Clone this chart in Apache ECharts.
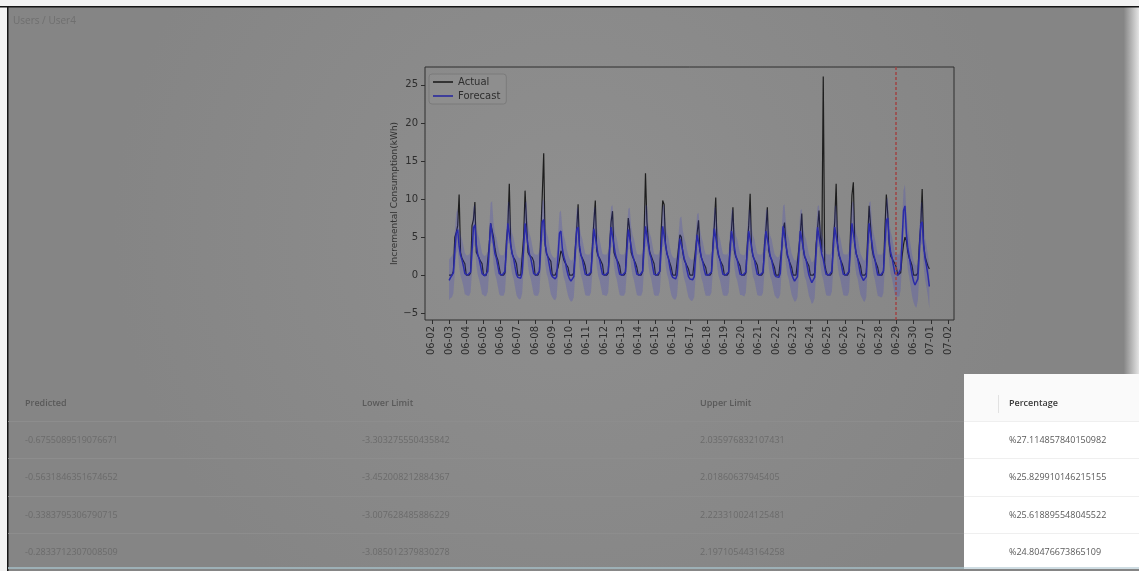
<!DOCTYPE html>
<html><head><meta charset="utf-8">
<script src="https://cdn.jsdelivr.net/npm/echarts@6/dist/echarts.min.js"></script>
<style>html,body{margin:0;padding:0;background:#fff;overflow:hidden}#c{width:1139px;height:571px}</style>
</head><body><div id="c"></div><script>
// ---- chart data (2-hour samples, 12 per day, 06-03 .. 06-30) ----
const tickLabels = ['06-02','06-03','06-04','06-05','06-06','06-07','06-08','06-09','06-10','06-11','06-12','06-13','06-14','06-15','06-16','06-17','06-18','06-19','06-20','06-21','06-22','06-23','06-24','06-25','06-26','06-27','06-28','06-29','06-30','07-01','07-02'];
const yTickValues = [-5, 0, 5, 10, 15, 20, 25];
const firstDay = 1;          // 06-03, in days after 06-02
const samplesPerDay = 12;
const forecastStartDay = 26.96;

const actual = [
 0,0,0,0.5,5.0,5.6,6.5,10.6,3.0,2.2,2.0,1.5,
 0,0,0,0.3,6.5,7.3,9.6,3.0,2.6,2.2,1.8,1.5,
 0,0,0,0.2,4.0,6.8,7.0,5.0,3.5,2.5,2.0,1.0,
 0,0,0,0.3,4.5,6.5,12.0,4.0,2.8,2.3,2.0,1.5,
 0,0,0,0.2,5.0,11.1,7.0,3.0,2.6,2.5,2.3,1.8,
 0,0,0,0.5,5.5,10.5,16.0,4.0,2.8,2.4,2.2,1.8,
 0,0,0,0,1.0,2.0,3.2,2.8,2.0,1.6,1.4,1.0,
 0,0,0,0.3,3.5,6.0,9.3,3.5,2.6,2.2,1.8,1.2,
 0,0,0,0.3,4.0,7.0,9.8,3.2,2.5,2.2,1.8,1.4,
 0,0,0,0.3,4.0,7.0,8.4,3.0,2.4,2.0,1.7,1.2,
 0,0,0,0.3,4.5,7.5,6.0,3.0,2.4,2.0,1.6,1.0,
 0,0,0,0.5,5.0,13.4,7.0,4.5,3.0,2.5,2.0,1.5,
 0,0,0,0.5,6.0,9.8,9.3,4.0,2.8,2.2,1.6,1.0,
 0,0,0,0.2,3.5,5.3,5.0,3.0,2.0,1.6,1.2,0.8,
 0,0,0,0.2,3.5,5.5,7.2,3.2,2.3,1.8,1.4,1.0,
 0,0,0,0.3,4.0,6.5,10.2,3.5,2.5,2.0,1.6,1.2,
 0,0,0,0.3,4.0,6.0,8.9,3.2,2.4,2.0,1.6,1.2,
 0,0,0,0.3,4.0,6.5,10.7,3.5,2.5,2.0,1.7,1.3,
 0,0,0,0.3,4.0,6.0,8.9,3.2,2.4,2.0,1.5,1.0,
 0,0,0,0.2,3.5,6.0,6.9,4.0,2.5,2.0,1.5,1.0,
 0,0,0,0.2,3.5,5.5,8.1,3.5,2.4,2.0,1.6,1.2,
 0,0,0,0.3,4.0,6.0,8.5,5.0,3.0,26.1,1.5,0.5,
 0,0,0,0.3,4.5,7.0,12.0,4.0,2.6,2.0,1.6,1.0,
 0,0,0,0.4,5.5,10.5,12.2,4.0,2.8,2.2,1.7,1.2,
 0,0,0,0.3,5.0,9.1,6.5,3.5,2.5,2.0,1.5,1.0,
 0,0,0,0.5,6.0,10.6,8.0,4.0,2.5,2.2,1.8,1.5,
 1.0,0,0,0.3,2.5,4.0,5.0,4.5,3.0,2.2,1.8,1.2,
 0,0,0,0.3,4.0,6.5,11.3,4.0,2.5,1.8,1.2,0.8
];
const forecast = [
 -0.68,-0.34,-0.2,0.3,3.0,5.5,6.0,3.8,2.6,2.0,1.2,0.2,
 0,0,0,0.4,3.2,6.2,6.6,4.0,2.7,2.1,1.2,0.2,
 0,-0.1,0,0.5,3.5,6.8,7.0,4.2,2.8,2.2,1.2,0.2,
 0,0,0,0.5,3.6,6.8,7.0,4.0,2.8,2.2,1.1,0.1,
 -0.3,-0.5,-0.4,0.3,3.5,6.8,7.0,4.0,2.8,2.2,1.2,0.2,
 0,0,0,0.5,3.8,7.0,7.3,4.2,2.9,2.3,1.2,0.2,
 -0.2,-0.4,-0.5,-0.2,2.5,5.5,5.8,3.5,2.4,1.8,0.8,0.0,
 -0.5,-0.8,-0.7,-0.2,2.8,6.0,6.3,3.8,2.6,2.0,1.0,0.1,
 0,0,0,0.4,3.2,6.1,6.3,3.8,2.6,2.0,1.0,0.1,
 0,0,0,0.4,3.3,6.3,6.5,3.9,2.7,2.1,1.0,0.1,
 0,0,0,0.4,3.2,6.0,6.2,3.8,2.6,2.0,1.0,0.1,
 0,0,0,0.5,3.6,6.4,6.5,4.0,2.8,2.2,1.1,0.1,
 0,0,0,0.5,3.6,6.4,6.5,4.0,2.8,2.2,1.0,0.1,
 -0.3,-0.5,-0.5,0,2.5,4.8,5.0,3.2,2.2,1.6,0.6,-0.2,
 -0.5,-0.7,-0.6,-0.2,2.6,5.3,5.5,3.4,2.3,1.7,0.7,0,
 0,0,0,0.4,3.3,6.1,6.3,3.8,2.6,2.0,1.0,0.1,
 0,0,0,0.4,3.2,5.8,6.0,3.7,2.5,2.0,1.0,0.1,
 0,0,0,0.4,3.2,5.8,6.0,3.7,2.5,2.0,1.0,0.1,
 0,0,0,0.4,3.2,5.8,6.0,3.7,2.5,2.0,1.0,0.1,
 -0.2,-0.4,-0.3,0.2,3.3,6.4,6.6,4.0,2.7,2.1,1.0,0.1,
 -0.4,-0.8,-0.7,-0.2,2.8,5.8,6.0,3.7,2.5,2.0,1.0,0.0,
 -0.5,-1.0,-0.9,-0.3,3.0,6.3,6.5,4.0,2.7,2.1,1.0,0.1,
 0,0,0,0.5,3.5,6.3,6.5,4.0,2.7,2.1,1.0,0.1,
 0,0,0,0.5,3.8,6.8,7.0,4.2,2.8,2.2,1.1,0.1,
 -0.3,-0.7,-0.8,-0.2,3.5,6.8,7.0,4.2,2.8,2.1,1.0,0.0,
 0,0,0,0.5,4.0,7.2,7.5,4.5,3.0,2.3,1.2,0.2,
 0,0,0,0.8,4.5,8.5,9.1,5.5,3.5,2.5,1.2,0.0,
 -0.8,-1.3,-1.5,-0.5,3.0,6.7,7.0,4.0,2.2,1.2,0,-1.5
];
const lower = [
 -3.3,-3.0,-2.9,-2.4,0.3,2.8,3.3,1.1,-0.1,-0.7,-1.5,-2.5,
 -2.6,-2.7,-2.7,-2.3,0.5,3.5,3.9,1.3,0.0,-0.6,-1.5,-2.5,
 -2.6,-2.8,-2.7,-2.2,0.8,4.1,4.3,1.5,0.1,-0.5,-1.5,-2.5,
 -2.7,-2.7,-2.7,-2.2,0.9,4.1,4.3,1.3,0.1,-0.5,-1.6,-2.6,
 -3.0,-3.2,-3.1,-2.4,0.8,4.1,4.3,1.3,0.1,-0.5,-1.5,-2.5,
 -2.7,-2.7,-2.7,-2.2,1.1,4.3,4.6,1.5,0.2,-0.4,-1.5,-2.5,
 -2.9,-3.2,-3.3,-2.9,-0.2,2.8,3.1,0.8,-0.3,-0.9,-1.9,-2.7,
 -3.2,-3.5,-3.4,-2.9,0.1,3.3,3.6,1.1,-0.1,-0.7,-1.7,-2.6,
 -2.7,-2.7,-2.7,-2.3,0.5,3.4,3.6,1.1,-0.1,-0.7,-1.7,-2.6,
 -2.6,-2.7,-2.7,-2.3,0.6,3.6,3.8,1.2,0.0,-0.6,-1.7,-2.6,
 -2.7,-2.7,-2.7,-2.3,0.5,3.3,3.5,1.1,-0.1,-0.7,-1.7,-2.6,
 -2.7,-2.7,-2.7,-2.2,0.9,3.7,3.8,1.3,0.1,-0.5,-1.6,-2.6,
 -2.7,-2.7,-2.7,-2.2,0.9,3.7,3.8,1.3,0.1,-0.5,-1.7,-2.6,
 -3.0,-3.2,-3.2,-2.7,-0.2,2.1,2.3,0.5,-0.5,-1.1,-2.1,-2.9,
 -3.2,-3.4,-3.3,-2.9,-0.1,2.6,2.8,0.7,-0.4,-1.0,-2.0,-2.7,
 -2.7,-2.7,-2.7,-2.3,0.6,3.4,3.6,1.1,-0.1,-0.7,-1.7,-2.6,
 -2.7,-2.7,-2.7,-2.3,0.5,3.1,3.3,1.0,-0.2,-0.7,-1.7,-2.6,
 -2.6,-2.7,-2.8,-2.3,0.5,3.1,3.3,1.0,-0.2,-0.7,-1.7,-2.6,
 -2.7,-2.7,-2.7,-2.3,0.5,3.1,3.3,1.0,-0.2,-0.7,-1.7,-2.6,
 -2.9,-3.1,-3.0,-2.5,0.6,3.7,3.9,1.3,0.0,-0.6,-1.7,-2.6,
 -3.1,-3.5,-3.4,-2.9,0.1,3.1,3.3,1.0,-0.2,-0.7,-1.7,-2.7,
 -3.2,-3.8,-3.6,-3.0,0.3,3.6,3.8,1.3,0.0,-0.6,-1.7,-2.6,
 -2.7,-2.7,-2.7,-2.2,0.8,3.6,3.8,1.3,0.0,-0.6,-1.7,-2.6,
 -2.7,-2.7,-2.7,-2.2,1.1,4.1,4.3,1.5,0.1,-0.5,-1.6,-2.6,
 -3.0,-3.4,-3.5,-2.9,0.8,4.1,4.3,1.5,0.1,-0.6,-1.7,-2.7,
 -2.8,-2.9,-2.9,-2.3,1.2,4.4,4.7,1.7,0.2,-0.5,-1.6,-2.6,
 -2.8,-2.8,-2.8,-2.0,1.7,5.7,6.3,2.7,0.7,-0.3,-1.6,-2.8,
 -3.6,-4.1,-4.3,-3.3,0.2,3.9,4.2,1.2,-0.6,-1.6,-2.8,-4.4
];
const upper = [
 2.04,2.3,2.5,3.0,5.7,8.2,8.7,6.5,5.3,4.7,3.9,2.9,
 2.6,2.6,2.7,3.1,5.9,8.9,9.3,6.7,5.4,4.8,3.9,2.9,
 2.6,2.5,2.7,3.2,6.2,9.5,9.7,6.9,5.5,4.9,3.9,2.9,
 2.6,2.6,2.6,3.2,6.3,9.5,9.7,6.7,5.5,4.9,3.8,2.8,
 2.4,2.2,2.3,3.0,6.2,9.5,9.7,6.7,5.5,4.9,3.9,2.9,
 2.7,2.7,2.7,3.2,6.5,9.7,10.0,6.9,5.6,5.0,3.9,2.9,
 2.5,2.3,2.2,2.5,5.2,8.2,8.5,6.2,5.1,4.5,3.5,2.7,
 2.2,1.9,2.0,2.5,5.5,8.7,9.0,6.5,5.3,4.7,3.7,2.8,
 2.7,2.7,2.7,3.1,5.9,8.8,9.0,6.5,5.3,4.7,3.7,2.8,
 2.7,2.7,2.7,3.1,6.0,9.0,9.2,6.6,5.4,4.8,3.7,2.8,
 2.7,2.7,2.7,3.1,5.9,8.7,8.9,6.5,5.3,4.7,3.7,2.8,
 2.7,2.7,2.7,3.2,6.3,9.1,9.2,6.7,5.5,4.9,3.8,2.8,
 2.7,2.7,2.7,3.2,6.3,9.1,9.2,6.7,5.5,4.9,3.7,2.8,
 2.4,2.2,2.2,2.7,5.2,7.5,7.7,5.9,4.9,4.3,3.3,2.5,
 2.2,2.0,2.1,2.5,5.3,8.0,8.2,6.1,5.0,4.4,3.4,2.7,
 2.7,2.7,2.7,3.1,6.0,8.8,9.0,6.5,5.3,4.7,3.7,2.8,
 2.7,2.7,2.7,3.1,5.9,8.5,8.7,6.4,5.2,4.7,3.7,2.8,
 2.7,2.6,2.6,3.1,5.9,8.5,8.7,6.4,5.2,4.7,3.7,2.8,
 2.7,2.7,2.7,3.1,5.9,8.5,8.7,6.4,5.2,4.7,3.7,2.8,
 2.5,2.3,2.4,2.9,6.0,9.1,9.3,6.7,5.4,4.8,3.7,2.8,
 2.3,1.9,2.0,2.5,5.5,8.5,8.7,6.4,5.2,4.7,3.7,2.7,
 2.2,1.7,1.8,2.4,5.7,9.0,9.2,6.7,5.4,4.8,3.7,2.8,
 2.7,2.7,2.7,3.2,6.2,9.0,9.2,6.7,5.4,4.8,3.7,2.8,
 2.7,2.7,2.7,3.2,6.5,9.5,9.7,6.9,5.5,4.9,3.8,2.8,
 2.4,2.0,1.9,2.5,6.2,9.5,9.7,6.9,5.5,4.8,3.7,2.7,
 2.7,2.7,2.7,3.2,6.7,9.9,10.2,7.2,5.7,5.0,3.9,2.9,
 2.7,2.7,2.7,3.5,7.2,11.2,11.9,8.2,6.2,5.2,3.9,2.7,
 1.9,1.4,1.2,2.2,5.7,9.4,9.7,6.7,4.9,3.9,2.7,1.2
];

// ---- table data ----
const breadcrumb = 'Users / User4';
const tableHeaders = ['Predicted', 'Lower Limit', 'Upper Limit', 'Percentage'];
const predictedCol = ['-0.6755089519076671', '-0.5631846351674652', '-0.3383795306790715', '-0.2833712307008509'];
const lowerCol = ['-3.303275550435842', '-3.452008212884367', '-3.007628485886229', '-3.085012379830278'];
const upperCol = ['2.035976832107431', '2.01860637945405', '2.223310024125481', '2.197105443164258'];
const percentageCol = ['%27.114857840150982', '%25.829910146215155', '%25.618895548045522', '%24.80476673865109'];

// ---- build ----
const xOf = i => firstDay + i / samplesPerDay;
const pts = arr => arr.map((v, i) => [xOf(i), v]);
const fmtMinus = v => (v < 0 ? '\u2212' + Math.abs(v) : String(v));

const colX = [25, 362, 700, 1009];
const headerY = 403;
const rowY = [440, 477.5, 515, 552];
const g = [];
g.push({type:'rect', z:-10, shape:{x:0,y:0,width:1139,height:571}, style:{fill:{type:'radial',x:0.5,y:0.4,r:0.8,colorStops:[{offset:0,color:'#8f8f8f'},{offset:1,color:'#858585'}]}}});
g.push({type:'rect', z:-9, shape:{x:1124,y:7,width:15,height:367}, style:{fill:{type:'linear',x:0,y:0,x2:1,y2:0,colorStops:[{offset:0,color:'#878787'},{offset:1,color:'#e4e4e4'}]}}});
g.push({type:'rect', z:-9, shape:{x:0,y:0,width:1139,height:6}, style:{fill:'#f2f2f2'}});
g.push({type:'rect', z:-9, shape:{x:0,y:0,width:7,height:571}, style:{fill:'#f2f2f2'}});
g.push({type:'rect', z:-8, shape:{x:0,y:6,width:1139,height:1.5}, style:{fill:'#151515'}});
g.push({type:'rect', z:-8, shape:{x:7,y:6,width:1.5,height:565}, style:{fill:'#151515'}});
g.push({type:'text', z:10, x:13, y:21, style:{text:breadcrumb, fill:'#6f6f6f', font:'10px "Open Sans"', textVerticalAlign:'middle'}});
[421, 458, 496, 533].forEach(y => g.push({type:'rect', z:-7, shape:{x:8,y:y,width:956,height:1}, style:{fill:'#8d8d8d'}}));
for (let c = 0; c < 3; c++) {
  g.push({type:'text', z:10, x:colX[c], y:headerY, style:{text:tableHeaders[c], fill:'#595959', font:'600 9px "Open Sans"', textVerticalAlign:'middle'}});
  const col = [predictedCol, lowerCol, upperCol][c];
  col.forEach((t, r) => g.push({type:'text', z:10, x:colX[c], y:rowY[r], style:{text:t, fill:'#6b6b6b', font:'9px "Open Sans"', textVerticalAlign:'middle'}}));
}
g.push({type:'rect', z:-6, shape:{x:964,y:374,width:175,height:194}, style:{fill:'#ffffff'}});
g.push({type:'rect', z:-5, shape:{x:964,y:374,width:175,height:47}, style:{fill:'#fafafa'}});
[421, 458, 496, 533].forEach(y => g.push({type:'rect', z:-4, shape:{x:964,y:y,width:175,height:1}, style:{fill:'#efefef'}}));
g.push({type:'rect', z:-4, shape:{x:998,y:395,width:1,height:18}, style:{fill:'#e2e2e2'}});
g.push({type:'text', z:10, x:colX[3], y:headerY, style:{text:tableHeaders[3], fill:'#3a3a3a', font:'600 9px "Open Sans"', textVerticalAlign:'middle'}});
percentageCol.forEach((t, r) => g.push({type:'text', z:10, x:colX[3], y:rowY[r], style:{text:t, fill:'#5a5a5a', font:'9px "Open Sans"', textVerticalAlign:'middle'}}));
g.push({type:'rect', z:-4, shape:{x:8,y:567,width:1131,height:2}, style:{fill:'#9db0b6'}});
g.push({type:'rect', z:-3, shape:{x:964,y:567,width:175,height:2}, style:{fill:'#cfdde3'}});

const chart = echarts.init(document.getElementById('c'));
chart.setOption({
  animation: false,
  graphic: {elements: g},
  grid: {left:425, top:67, right:185, bottom:251, show:true, borderColor:'#2e2e2e', borderWidth:1, backgroundColor:'transparent'},
  legend: {
    data:[{name:'Actual', icon:'rect'}, {name:'Forecast', icon:'rect'}],
    orient:'vertical', left:429, top:74,
    itemWidth:20, itemHeight:1.6, itemGap:2, padding:[2,6,2,4],
    backgroundColor:'rgba(150,150,150,0.3)', borderColor:'#7b7b7b', borderWidth:1, borderRadius:3,
    textStyle:{fontFamily:'DejaVu Sans', fontSize:10, color:'#2e2e2e', lineHeight:12}
  },
  xAxis: {
    type:'value', min:-0.4, max:30.35,
    axisLine:{show:false, onZero:false}, splitLine:{show:false},
    axisTick:{show:true, length:4, customValues: tickLabels.map((_, i) => i), lineStyle:{color:'#2e2e2e'}},
    axisLabel:{customValues: tickLabels.map((_, i) => i), rotate:90, margin:6, formatter: v => tickLabels[Math.round(v)], fontFamily:'DejaVu Sans', fontSize:10, color:'#2e2e2e'}
  },
  yAxis: {
    type:'value', min:-5.9, max:27.35,
    name:'Incremental Consumption(kWh)', nameLocation:'middle', nameGap:24, nameRotate:90,
    nameTextStyle:{fontFamily:'DejaVu Sans', fontSize:9, color:'#333'},
    axisLine:{show:false, onZero:false}, splitLine:{show:false},
    axisTick:{show:true, length:4, customValues:yTickValues, lineStyle:{color:'#2e2e2e'}},
    axisLabel:{customValues:yTickValues, margin:7, formatter: v => fmtMinus(v), fontFamily:'DejaVu Sans', fontSize:10, color:'#2e2e2e'}
  },
  series: [
    {name:'Actual', type:'line', data:pts(actual), symbol:'none', z:2,
     lineStyle:{color:'#1e1e1e', width:1.2}, itemStyle:{color:'#1e1e1e'}},
    {name:'Forecast', type:'line', data:pts(forecast), symbol:'none', z:3,
     lineStyle:{color:'#2a2a9e', width:1.5}, itemStyle:{color:'#2a2a9e'},
     markLine:{silent:true, symbol:'none', label:{show:false},
       lineStyle:{color:'#a04444', type:[3,2], width:1.5},
       data:[{xAxis:forecastStartDay}]}},
    {name:'interval', type:'custom', z:4, silent:true, clip:true,
     data:[[xOf(0), 0]],
     renderItem: (params, api) => {
       const top = upper.map((v, i) => api.coord([xOf(i), v]));
       const bottom = lower.map((v, i) => api.coord([xOf(i), v])).reverse();
       return {type:'polygon', shape:{points: top.concat(bottom)}, style:{fill:'rgba(50,50,210,0.2)'}};
     }}
  ]
});
</script></body></html>
